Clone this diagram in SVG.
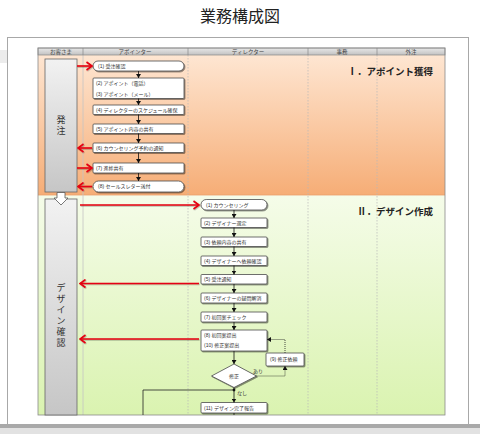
<svg xmlns="http://www.w3.org/2000/svg" width="480" height="434" viewBox="0 0 480 434">
<style>
text{font-family:"Liberation Sans","Noto Sans CJK JP",sans-serif;fill:#333}
.t{font-size:5px}
.h{font-size:5.5px;text-anchor:middle;fill:#444}
.box{fill:#fff;stroke:#4a4a4a;stroke-width:0.8;filter:url(#sh)}
.ar{stroke:#111;stroke-width:0.8;fill:none;marker-end:url(#ah)}
.dt{stroke:#222;stroke-width:0.8;fill:none;stroke-dasharray:1,1;marker-end:url(#ah)}
.rd{stroke:#e50012;stroke-width:1.6;fill:none;marker-end:url(#rh);filter:url(#rs)}
.lane{stroke:#b8b8b8;stroke-width:0.7;stroke-dasharray:1.5,1.5}
.sec{font-size:9.5px;font-weight:bold;text-anchor:end;fill:#222}
.bar{fill:url(#gBar);stroke:#666;stroke-width:0.8}
.vt{font-size:9px;text-anchor:middle;fill:#333}
</style>
<defs>
<linearGradient id="gOr" x1="0" y1="0" x2="0" y2="1"><stop offset="0" stop-color="#fee6d2"/><stop offset="1" stop-color="#f6ad76"/></linearGradient>
<linearGradient id="gGr" x1="0" y1="0" x2="0" y2="1"><stop offset="0" stop-color="#f5fce9"/><stop offset="1" stop-color="#daf3b0"/></linearGradient>
<linearGradient id="gBar" x1="0" y1="0" x2="0" y2="1"><stop offset="0" stop-color="#f2f2f2"/><stop offset="1" stop-color="#c6c6c6"/></linearGradient>
<linearGradient id="gHead" x1="0" y1="0" x2="0" y2="1"><stop offset="0" stop-color="#e8e8e8"/><stop offset="1" stop-color="#c2c2c2"/></linearGradient>
<filter id="sh" x="-20%" y="-30%" width="140%" height="170%"><feDropShadow dx="1" dy="1" stdDeviation="0.5" flood-color="#000" flood-opacity="0.45"/></filter>
<filter id="rs" filterUnits="userSpaceOnUse" x="0" y="0" width="480" height="434"><feDropShadow dx="0.6" dy="0.8" stdDeviation="0.5" flood-color="#000" flood-opacity="0.3"/></filter>
<marker id="ah" markerUnits="userSpaceOnUse" markerWidth="5" markerHeight="5" refX="4" refY="2.5" orient="auto"><path d="M0,0 L4,2.5 L0,5 z" fill="#111"/></marker>
<marker id="rh" markerUnits="userSpaceOnUse" markerWidth="8" markerHeight="10" refX="6.5" refY="5" orient="auto"><path d="M1,1 L6.5,5 L1,9" fill="none" stroke="#e50012" stroke-width="1.6"/></marker>
</defs>

<text x="240" y="22" style="font-size:16px;text-anchor:middle;fill:#222">業務構成図</text>

<rect x="0" y="50" width="7" height="13" fill="#ececec"/>
<rect x="7.5" y="37.5" width="461" height="387" fill="#fff" stroke="#a8a8a8" stroke-width="1"/>
<rect x="0" y="424" width="480" height="4" fill="#a9a9a9"/>
<rect x="0" y="428" width="480" height="6" fill="#e2e2e2"/>

<g id="lanes">
<rect x="38" y="55" width="407" height="140" fill="url(#gOr)"/>
<rect x="38" y="195" width="407" height="220" fill="url(#gGr)"/>
<line x1="38" y1="195" x2="445" y2="195" stroke="#eba06a" stroke-width="0.8"/>
<line x1="83" y1="55" x2="83" y2="415" stroke="#c4c4c4" stroke-width="0.8"/>
<line class="lane" x1="188" y1="55" x2="188" y2="415"/>
<line class="lane" x1="308" y1="55" x2="308" y2="415"/>
<line class="lane" x1="377" y1="55" x2="377" y2="415"/>
<rect x="38" y="48" width="407" height="7" fill="url(#gHead)" stroke="#888" stroke-width="0.7"/>
<g stroke="#888" stroke-width="0.7"><line x1="83" y1="48" x2="83" y2="55"/><line x1="188" y1="48" x2="188" y2="55"/><line x1="308" y1="48" x2="308" y2="55"/><line x1="377" y1="48" x2="377" y2="55"/></g>
<text class="h" x="61" y="53.5">お客さま</text>
<text class="h" x="135" y="53.5">アポインター</text>
<text class="h" x="248" y="53.5">ディレクター</text>
<text class="h" x="342" y="53.5">事務</text>
<text class="h" x="411" y="53.5">外注</text>
<rect x="38" y="48" width="407" height="367" fill="none" stroke="#8a8a8a" stroke-width="0.8"/>
<text class="sec" x="433" y="75">Ⅰ．アポイント獲得</text>
<text class="sec" x="433" y="215">Ⅱ．デザイン作成</text>
</g>

<g id="phase-hatchu">
<rect class="bar" x="45" y="59" width="32" height="133"/>
<text class="vt" x="61" y="123">発</text>
<text class="vt" x="61" y="134">注</text>
</g>
<g id="phase-design">
<rect class="bar" x="45" y="199" width="32" height="216"/>
<text class="vt" x="61" y="291">デ</text>
<text class="vt" x="61" y="302">ザ</text>
<text class="vt" x="61" y="313">イ</text>
<text class="vt" x="61" y="324">ン</text>
<text class="vt" x="61" y="335">確</text>
<text class="vt" x="61" y="346">認</text>
</g>
<g id="phase-arrow">
<path d="M57,192.5 H65 V198 H68 L61,205 L54,198 H57 Z" fill="#fff" stroke="#555" stroke-width="0.8"/>
</g>

<g id="a1"><rect class="box" x="93" y="61" width="91" height="10" rx="5"/><text class="t" x="98" y="67.8">(1) 受注確認</text></g>
<g id="a2"><rect class="box" x="93" y="78" width="91" height="20.5" rx="1"/><text class="t" x="96" y="85">(2) アポイント（電話）</text><text class="t" x="96" y="96">(3) アポイント（メール）</text></g>
<g id="a4"><rect class="box" x="93" y="105" width="91" height="9.5" rx="1"/><text class="t" x="96" y="111.5">(4) ディレクターのスケジュール確保</text></g>
<g id="a5"><rect class="box" x="93" y="124" width="91" height="9.5" rx="1"/><text class="t" x="96" y="130.5">(5) アポイント内容の共有</text></g>
<g id="a6"><rect class="box" x="93" y="143" width="91" height="9.5" rx="1"/><text class="t" x="96" y="149.5">(6) カウンセリング予約の通知</text></g>
<g id="a7"><rect class="box" x="93" y="163" width="91" height="10" rx="1"/><text class="t" x="96" y="169.8">(7) 進捗共有</text></g>
<g id="a8"><rect class="box" x="93" y="181" width="91" height="11" rx="5.5"/><text class="t" x="98" y="188.3">(8) セールスレター送付</text></g>

<g id="d1"><rect class="box" x="201" y="199.5" width="66" height="10.5" rx="5.2"/><text class="t" x="206" y="206.5">(1) カウンセリング</text></g>
<g id="d2"><rect class="box" x="201" y="218" width="66" height="9.5" rx="1"/><text class="t" x="204" y="224.5">(2) デザイナー選定</text></g>
<g id="d3"><rect class="box" x="201" y="237" width="66" height="9.5" rx="1"/><text class="t" x="204" y="243.5">(3) 依頼内容の共有</text></g>
<g id="d4"><rect class="box" x="201" y="256" width="66" height="9.5" rx="1"/><text class="t" x="204" y="262.5">(4) デザイナーへ依頼確認</text></g>
<g id="d5"><rect class="box" x="201" y="274.5" width="66" height="9.5" rx="1"/><text class="t" x="204" y="281">(5) 受注通知</text></g>
<g id="d6"><rect class="box" x="201" y="293" width="66" height="10" rx="1"/><text class="t" x="204" y="299.8">(6) デザイナーの疑問解消</text></g>
<g id="d7"><rect class="box" x="201" y="312" width="66" height="10" rx="1"/><text class="t" x="204" y="318.8">(7) 初回案チェック</text></g>
<g id="d8"><rect class="box" x="201" y="330" width="66" height="21" rx="1"/><text class="t" x="204" y="336.8">(8) 初回案提出</text><text class="t" x="204" y="346.8">(10) 修正案提出</text></g>
<g id="d9"><rect class="box" x="266" y="353" width="38" height="13" rx="1"/><text class="t" x="270" y="361.3">(9) 修正依頼</text></g>
<g id="dq"><path class="box" d="M234,364 L256.5,376 L234,387.5 L211.5,376 Z"/><text class="t" x="234" y="377.8" style="text-anchor:middle">修正</text></g>
<g id="d11"><rect class="box" x="201" y="402.5" width="66" height="10.5" rx="1"/><text class="t" x="204" y="409.5">(11) デザイン完了報告</text></g>

<g id="connectors">
<line class="ar" x1="138.5" y1="71" x2="138.5" y2="78"/>
<line class="ar" x1="138.5" y1="98.5" x2="138.5" y2="105"/>
<line class="ar" x1="138.5" y1="114.5" x2="138.5" y2="124"/>
<line class="ar" x1="138.5" y1="133.5" x2="138.5" y2="143"/>
<line class="ar" x1="138.5" y1="152.5" x2="138.5" y2="163"/>
<line class="ar" x1="138.5" y1="173" x2="138.5" y2="181"/>
<line class="ar" x1="234" y1="210" x2="234" y2="218"/>
<line class="ar" x1="234" y1="227.5" x2="234" y2="237"/>
<line class="ar" x1="234" y1="246.5" x2="234" y2="256"/>
<line class="ar" x1="234" y1="265.5" x2="234" y2="274.5"/>
<line class="ar" x1="234" y1="284" x2="234" y2="293"/>
<line class="ar" x1="234" y1="303" x2="234" y2="312"/>
<line class="ar" x1="234" y1="322" x2="234" y2="330"/>
<line class="ar" x1="234" y1="351" x2="234" y2="364"/>
<line class="ar" x1="234" y1="387.5" x2="234" y2="402.5"/>
<line x1="234" y1="413" x2="234" y2="415" stroke="#111" stroke-width="0.8"/>
<path d="M143,415 V390 H234" fill="none" stroke="#222" stroke-width="0.8"/>
<circle cx="234" cy="390" r="1.4" fill="#111"/>
<path class="dt" d="M256.5,376 H285 V366"/>
<path class="dt" d="M285,353 V339.5 H267"/>
<text class="t" x="253" y="372.5">あり</text>
<text class="t" x="237" y="395">なし</text>
<line class="rd" x1="77" y1="66" x2="92" y2="66"/>
<line class="rd" x1="92" y1="148" x2="78" y2="148"/>
<line class="rd" x1="77" y1="168" x2="92" y2="168"/>
<line class="rd" x1="92" y1="186.5" x2="78" y2="186.5"/>
<line class="rd" x1="80" y1="205" x2="199" y2="205"/>
<line class="rd" x1="199" y1="283.5" x2="80" y2="283.5"/>
<line class="rd" x1="199" y1="339" x2="80" y2="339"/>
</g>
</svg>
